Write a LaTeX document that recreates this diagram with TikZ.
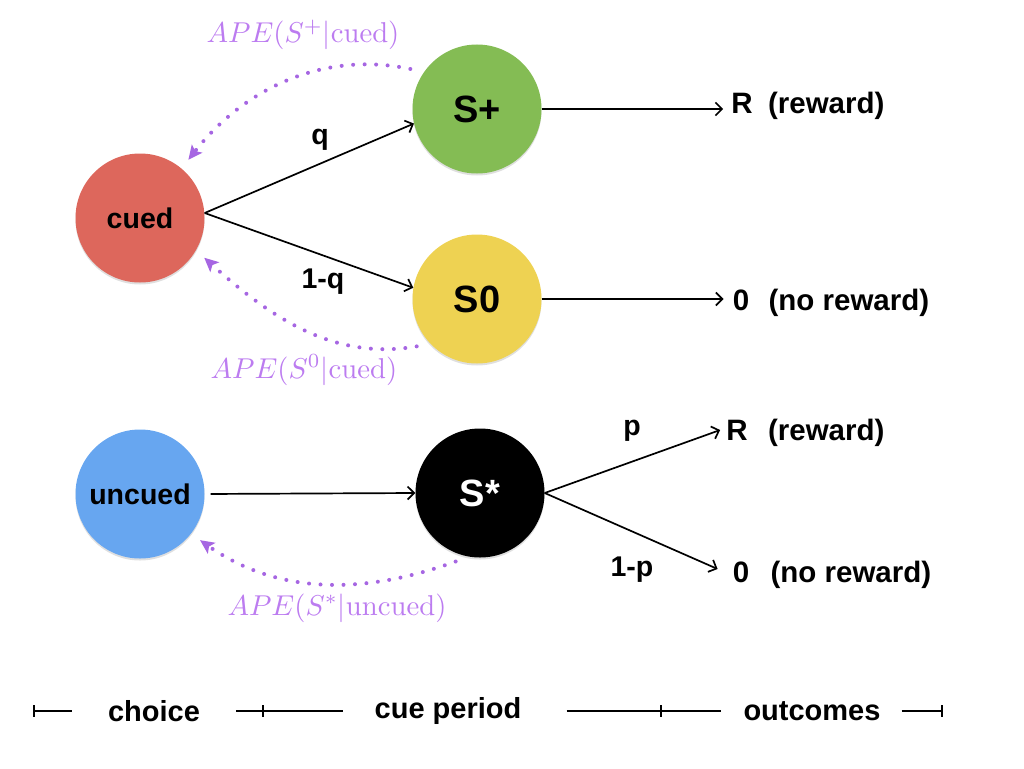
\documentclass[tikz,border=0pt]{standalone}
\usepackage{fontspec}
\usepackage{graphicx}
\usepackage{tikz}
\usetikzlibrary{positioning, arrows.meta, shadows}
\newfontfamily\helv{Liberation Sans}
\definecolor{cuedFill}{RGB}{221, 103, 92}
\definecolor{splusFill}{RGB}{132, 188, 84}
\definecolor{szeroFill}{RGB}{238, 210, 82}
\definecolor{uncuedFill}{RGB}{103, 166, 240}
\definecolor{apeColor}{RGB}{166, 102, 226}
\definecolor{apeText}{RGB}{188, 124, 240}
\newcommand{\apetxt}[1]{\scalebox{2.87}{$#1$}}
\tikzset{
    trial_state/.style={
        circle,
        minimum size=129pt,
        inner sep=0pt,
        text=black,
        font=\fontsize{28.5}{32}\selectfont\helv\bfseries,
        drop shadow={shadow xshift=0pt, shadow yshift=-2pt, opacity=0.25}
    },
    cue_state/.style={
        trial_state,
        font=\fontsize{38}{42}\selectfont\helv\bfseries
    },
    trans_edge/.style={
        -{Straight Barb[length=6.5pt, width=13pt]},
        line width=1.7pt,
        draw=black
    },
    ape_edge/.style={
        -{Stealth[length=14pt, width=13pt, inset=3pt]},
        draw=apeColor,
        line width=4pt,
        line cap=round,
        dash pattern=on 0pt off 11.5pt,
        shorten <=14pt,
        shorten >=11pt
    },
    ape_label/.style={
        text=apeText,
        inner sep=0pt
    },
    edge_txt/.style={
        inner sep=3pt,
        font=\fontsize{28.5}{32}\selectfont\helv\bfseries
    },
    outcome_txt/.style={
        inner sep=3pt,
        font=\fontsize{29.5}{33}\selectfont\helv\bfseries
    },
    time_txt/.style={
        inner sep=3pt,
        font=\fontsize{29}{33}\selectfont\helv\bfseries
    },
    time_line/.style={
        line width=2.2pt,
        draw=black
    }
}
\begin{document}
\begin{tikzpicture}[x=1pt, y=-1pt]
    \useasboundingbox (0,0) rectangle (1024,768);

    % states
    \node[trial_state, fill=cuedFill] (cued) at (140,218) {cued};
    \node[cue_state, fill=splusFill] (splus) at (477,109) {S+};
    \node[cue_state, fill=szeroFill] (szero) at (477,299) {S0};
    \node[trial_state, fill=uncuedFill] (uncued) at (140,494) {uncued};
    \node[cue_state, fill=black, text=white] (sstar) at (480,493) {S*};

    % outcomes
    \node[outcome_txt] (rwdA) at (742,103) {R};
    \node[outcome_txt, base right=9pt of rwdA] (rwdAtxt) {(reward)};
    \node[outcome_txt] (nilA) at (741,300) {0};
    \node[outcome_txt, base right=13pt of nilA] (nilAtxt) {(no reward)};
    \node[outcome_txt] (rwdB) at (737,430) {R};
    \node[outcome_txt, base right=14pt of rwdB] (rwdBtxt) {(reward)};
    \node[outcome_txt] (nilB) at (741,572) {0};
    \node[outcome_txt, base right=15pt of nilB] (nilBtxt) {(no reward)};

    \draw[trans_edge] ([yshift=5pt]cued.east) -- (splus.193);
    \draw[trans_edge] ([yshift=5pt]cued.east) -- (szero.170);
    \draw[trans_edge] (splus.east) -- ([xshift=-5pt]splus.east -| rwdA.west);
    \draw[trans_edge] (szero.east) -- ([xshift=-6pt]szero.east -| nilA.west);
    \draw[trans_edge, shorten <=6pt] (uncued.east) -- (sstar.west);
    \draw[trans_edge] (sstar.east) -- ([xshift=-3pt]rwdB.west);
    \draw[trans_edge] (sstar.east) -- ([xshift=-12pt, yshift=3pt]nilB.west);

    \node[edge_txt] (qlbl) at (320,140) {q};
    \node[edge_txt] (nqlbl) at (323,282) {1-q};
    \node[edge_txt] (plbl) at (632,431) {p};
    \node[edge_txt] (nplbl) at (632,570) {1-p};

    % APE 回传 (虚线)
    \draw[ape_edge] (splus.145) to[out=168, in=52] (cued.50);
    \draw[ape_edge] (szero.224) to[out=190, in=-42] (cued.330);
    \draw[ape_edge] (sstar.260) to[out=200, in=-35] (uncued.322);

    \node[ape_label] (apeA) at (303,35) {\apetxt{APE(S^{+}|\mathrm{cued})}};
    \node[ape_label] (apeB) at (304,370) {\apetxt{APE(S^{0}|\mathrm{cued})}};
    \node[ape_label] (apeC) at (337,608) {\apetxt{APE(S^{*}|\mathrm{uncued})}};

    % timeline
    \node[time_txt] (choice) at (154,711) {choice};
    \node[time_txt] (cueper) at (448,711) {cue period};
    \node[time_txt] (outc) at (812,711) {outcomes};
    \coordinate (t0) at (34,711);
    \coordinate (t1) at (263,711);
    \coordinate (t2) at (661,711);
    \coordinate (t3) at (942,711);
    \draw[time_line] (t0) -- ([xshift=-33pt]choice.west);
    \draw[time_line] ([xshift=33pt]choice.east) -- ([xshift=-28pt]cueper.west);
    \draw[time_line] ([xshift=42pt]cueper.east) -- ([xshift=-19pt]outc.west);
    \draw[time_line] ([xshift=18pt]outc.east) -- (t3);
    \foreach \t in {t0,t1,t2,t3}
        \draw[time_line] ([yshift=6pt]\t) -- ([yshift=-6pt]\t);
\end{tikzpicture}
\end{document}
